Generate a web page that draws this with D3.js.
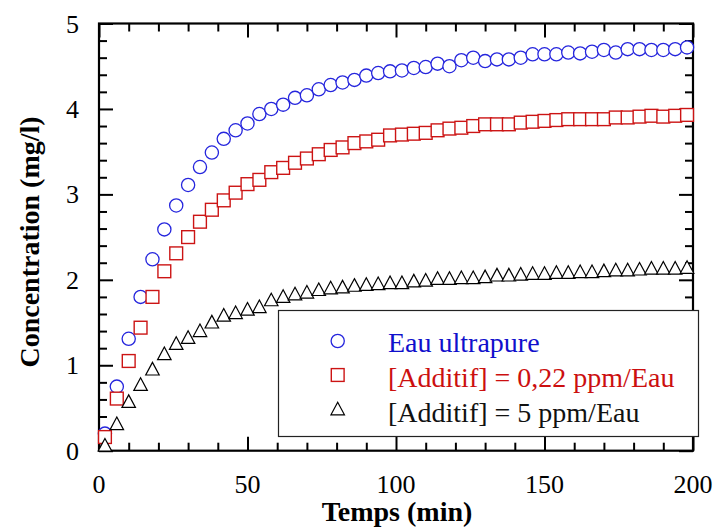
<!DOCTYPE html>
<html>
<head>
<meta charset="utf-8">
<script src="https://cdn.jsdelivr.net/npm/d3@7/dist/d3.min.js"></script>
<style>
  html, body { margin: 0; padding: 0; background: #fff; }
  svg { display: block; }
</style>
</head>
<body>
<svg id="chart" width="715" height="529"></svg>
<script>
// ---- data ----
const times = [2, 6, 10, 14, 18, 22, 26, 30, 34, 38, 42, 46, 50, 54, 58, 62, 66, 70, 74, 78,
  82, 86, 90, 94, 98, 102, 106, 110, 114, 118, 122, 126, 130, 134, 138, 142, 146, 150, 154, 158,
  162, 166, 170, 174, 178, 182, 186, 190, 194, 198];

const eauUltrapure = [0.20, 0.75, 1.31, 1.80, 2.24, 2.59, 2.87, 3.11, 3.32, 3.49, 3.65, 3.75, 3.83, 3.94, 4.00, 4.05, 4.13, 4.16, 4.23, 4.28,
  4.31, 4.34, 4.39, 4.42, 4.44, 4.45, 4.48, 4.49, 4.53, 4.50, 4.57, 4.60, 4.56, 4.58, 4.58, 4.60, 4.64, 4.64, 4.64, 4.66,
  4.65, 4.67, 4.69, 4.66, 4.70, 4.70, 4.69, 4.69, 4.70, 4.72];

const additif022 = [0.16, 0.61, 1.05, 1.44, 1.80, 2.10, 2.31, 2.50, 2.68, 2.82, 2.93, 3.02, 3.12, 3.17, 3.26, 3.31, 3.37, 3.42, 3.47, 3.52,
  3.55, 3.60, 3.62, 3.64, 3.69, 3.70, 3.71, 3.72, 3.75, 3.77, 3.78, 3.80, 3.82, 3.82, 3.82, 3.84, 3.85, 3.86, 3.87, 3.88,
  3.88, 3.88, 3.88, 3.90, 3.90, 3.91, 3.92, 3.91, 3.92, 3.93];

const additif5 = [0.07, 0.32, 0.58, 0.78, 0.96, 1.14, 1.26, 1.33, 1.41, 1.51, 1.59, 1.62, 1.66, 1.69, 1.77, 1.81, 1.84, 1.86, 1.89, 1.91,
  1.92, 1.94, 1.95, 1.96, 1.97, 1.97, 1.99, 2.00, 2.02, 2.02, 2.03, 2.03, 2.04, 2.06, 2.06, 2.07, 2.08, 2.08, 2.09, 2.09,
  2.10, 2.10, 2.11, 2.12, 2.12, 2.13, 2.14, 2.14, 2.14, 2.15];

const xMajorTicks = [0, 50, 100, 150, 200];
const xMinorTicks = [10, 20, 30, 40, 60, 70, 80, 90, 110, 120, 130, 140, 160, 170, 180, 190];
const yMajorTicks = [0, 1, 2, 3, 4, 5];
const yMinorTicks = [0.2, 0.4, 0.6, 0.8, 1.2, 1.4, 1.6, 1.8, 2.2, 2.4, 2.6, 2.8, 3.2, 3.4, 3.6, 3.8, 4.2, 4.4, 4.6, 4.8];

const seriesNames = ["Eau ultrapure", "[Additif] = 0,22 ppm/Eau", "[Additif] = 5 ppm/Eau"];
const xTitle = "Temps (min)";
const yTitle = "Concentration (mg/l)";

// ---- layout ----
const FONT = "Liberation Serif";
const svg = d3.select("#chart");
const L = 99, R = 693, T = 23.5, B = 450.7;
const x = d3.scaleLinear().domain([0, 200]).range([L, R]);
const y = d3.scaleLinear().domain([0, 5]).range([B, T]);

const blue = "#2525dd", red = "#cc1414", black = "#000";
const MAJ = 14, MIN = 8;

function styleAxis(g) {
  g.select(".domain").remove();
  g.selectAll("text").remove();
  g.selectAll(".tick line").attr("stroke", "#000").attr("stroke-width", 2);
}
function addAxis(transform, axis) {
  svg.append("g").attr("transform", transform).call(axis.tickFormat("")).call(styleAxis);
}

addAxis(`translate(0,${B})`, d3.axisBottom(x).tickValues(xMajorTicks).tickSize(-MAJ));
addAxis(`translate(0,${B})`, d3.axisBottom(x).tickValues(xMinorTicks).tickSize(-MIN));
addAxis(`translate(0,${T})`, d3.axisTop(x).tickValues(xMajorTicks).tickSize(-MAJ));
addAxis(`translate(0,${T})`, d3.axisTop(x).tickValues(xMinorTicks).tickSize(-MIN));
addAxis(`translate(${L},0)`, d3.axisLeft(y).tickValues(yMajorTicks).tickSize(-MAJ));
addAxis(`translate(${L},0)`, d3.axisLeft(y).tickValues(yMinorTicks).tickSize(-MIN));
addAxis(`translate(${R},0)`, d3.axisRight(y).tickValues(yMajorTicks).tickSize(-MAJ));
addAxis(`translate(${R},0)`, d3.axisRight(y).tickValues(yMinorTicks).tickSize(-MIN));

// tick labels placed at svg root, positioned with the scales
svg.selectAll("text.xlab").data(xMajorTicks).join("text").attr("class", "xlab")
  .attr("x", d => x(d)).attr("y", B + 42).attr("text-anchor", "middle")
  .style("font-family", FONT).style("font-size", "26px").attr("fill", "#000").text(d => d);
svg.selectAll("text.ylab").data(yMajorTicks).join("text").attr("class", "ylab")
  .attr("x", L - 20).attr("y", d => y(d) + 9).attr("text-anchor", "end")
  .style("font-family", FONT).style("font-size", "26px").attr("fill", "#000").text(d => d);

// frame
svg.append("rect").attr("x", L).attr("y", T).attr("width", R - L).attr("height", B - T)
  .attr("fill", "none").attr("stroke", "#000").attr("stroke-width", 2.2);

// ---- markers ----
const triPath = (w, h) => `M0,${-h / 2}L${w / 2},${h / 2}L${-w / 2},${h / 2}Z`;

const gPts = svg.append("g");
gPts.append("g").selectAll("circle").data(times.map((t, i) => [t, eauUltrapure[i]])).join("circle")
  .attr("cx", d => x(d[0])).attr("cy", d => y(d[1])).attr("r", 6.6)
  .attr("fill", "#fff").attr("stroke", blue).attr("stroke-width", 1.3);

gPts.append("g").selectAll("rect").data(times.map((t, i) => [t, additif022[i]])).join("rect")
  .attr("x", d => x(d[0]) - 6.4).attr("y", d => y(d[1]) - 6.4).attr("width", 12.8).attr("height", 12.8)
  .attr("fill", "#fff").attr("stroke", red).attr("stroke-width", 1.4);

gPts.append("g").selectAll("path").data(times.map((t, i) => [t, additif5[i]])).join("path")
  .attr("transform", d => `translate(${x(d[0])},${y(d[1])})`)
  .attr("d", triPath(13.5, 12.6))
  .attr("fill", "#fff").attr("stroke", black).attr("stroke-width", 1.2);

// ---- legend ----
svg.append("rect").attr("x", 278.5).attr("y", 310.5).attr("width", 420).attr("height", 126)
  .attr("fill", "#fff").attr("stroke", "#222").attr("stroke-width", 1.2);
const legendRows = [
  { name: seriesNames[0], color: blue, textColor: "#1010cc", type: "circle", cy: 341, base: 352 },
  { name: seriesNames[1], color: red, textColor: "#cc0f0f", type: "square", cy: 375, base: 387 },
  { name: seriesNames[2], color: black, textColor: "#111", type: "triangle", cy: 408.5, base: 422 }
];
legendRows.forEach(r => {
  const mx = 337.7;
  if (r.type === "circle") {
    svg.append("circle").attr("cx", mx).attr("cy", r.cy).attr("r", 6.6)
      .attr("fill", "#fff").attr("stroke", r.color).attr("stroke-width", 1.3);
  } else if (r.type === "square") {
    svg.append("rect").attr("x", mx - 6.4).attr("y", r.cy - 6.4).attr("width", 12.8).attr("height", 12.8)
      .attr("fill", "#fff").attr("stroke", r.color).attr("stroke-width", 1.4);
  } else {
    svg.append("path").attr("transform", `translate(${mx},${r.cy})`).attr("d", triPath(13.5, 12.6))
      .attr("fill", "#fff").attr("stroke", r.color).attr("stroke-width", 1.2);
  }
  svg.append("text").attr("x", 388).attr("y", r.base)
    .style("font-family", FONT).style("font-size", "28px").attr("fill", r.textColor).text(r.name);
});

// ---- titles ----
svg.append("text").attr("x", 397).attr("y", 521).attr("text-anchor", "middle")
  .style("font-family", FONT).style("font-size", "28px").style("font-weight", "bold").attr("fill", "#000").text(xTitle);
svg.append("text").attr("transform", "translate(39,242) rotate(-90)").attr("text-anchor", "middle")
  .style("font-family", FONT).style("font-size", "28px").style("font-weight", "bold").attr("fill", "#000").text(yTitle);
</script>
</body>
</html>
